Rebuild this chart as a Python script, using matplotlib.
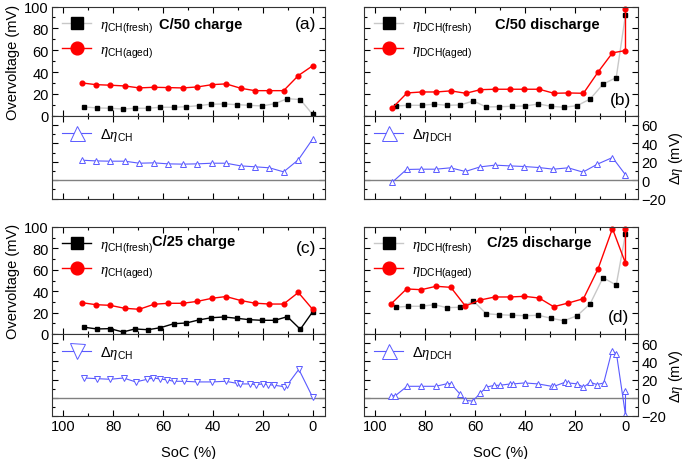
import matplotlib
matplotlib.use('Agg')
import matplotlib.pyplot as plt
from matplotlib.ticker import MultipleLocator

plt.rcParams['font.family'] = ['Liberation Sans', 'DejaVu Sans']
plt.rcParams['mathtext.fontset'] = 'custom'
plt.rcParams['mathtext.rm'] = 'Liberation Sans'
plt.rcParams['mathtext.it'] = 'Liberation Serif:italic'
plt.rcParams['mathtext.bf'] = 'Liberation Sans:bold'

# (a) C/50 charge
soc_ch50_fresh = [91.5, 86.5, 81.2, 76.1, 71.2, 66.0, 61.0, 55.7, 50.6, 45.7, 40.6, 35.5, 30.4, 25.4, 20.3, 15.1, 10.1, 4.9, 0.0]
eta_ch50_fresh = [8.1, 7.2, 6.9, 6.2, 6.9, 6.9, 7.8, 7.8, 8.3, 9.3, 10.6, 10.8, 10.2, 9.6, 9.0, 11.1, 15.7, 14.8, 1.4]
soc_ch50_aged = [92.6, 86.9, 81.2, 75.3, 69.5, 63.6, 57.9, 52.1, 46.2, 40.3, 34.7, 28.8, 23.1, 17.3, 11.6, 5.7, 0.0]
eta_ch50_aged = [30.1, 28.5, 28.0, 27.3, 25.5, 26.1, 25.8, 25.5, 26.4, 28.5, 29.2, 25.2, 23.0, 23.0, 23.0, 36.8, 45.7]
d_ch50 = [21.7, 20.9, 20.6, 20.6, 18.4, 18.8, 17.7, 17.4, 17.7, 18.4, 18.4, 15.5, 14.5, 13.4, 9.0, 22.1, 44.5]

# (b) C/50 discharge
soc_dch50_fresh = [91.9, 86.9, 81.5, 76.4, 71.3, 66.0, 60.8, 55.7, 50.5, 45.2, 40.0, 34.8, 29.7, 24.6, 19.3, 14.1, 9.0, 3.7, 0.0]
eta_dch50_fresh = [9.0, 9.6, 9.6, 10.6, 9.6, 9.9, 13.6, 8.1, 8.3, 8.7, 9.0, 10.8, 8.7, 7.8, 9.3, 15.4, 28.9, 35.0, 92.5]
soc_dch50_aged = [93.3, 87.3, 81.5, 75.6, 69.8, 63.8, 58.0, 52.1, 46.3, 40.4, 34.5, 28.6, 22.8, 16.8, 11.0, 5.2, 0.0, 0.0]
eta_dch50_aged = [6.9, 20.9, 21.8, 21.8, 22.8, 20.6, 23.9, 24.3, 24.3, 24.3, 24.3, 20.6, 20.9, 20.6, 39.9, 57.6, 59.7, 98.0]
soc_d_dch50 = [93.3, 87.5, 81.8, 75.8, 69.9, 64.0, 58.1, 52.2, 46.3, 40.4, 34.6, 28.8, 22.9, 17.0, 11.2, 5.2, 0.0]
d_dch50 = [-2.5, 11.6, 11.9, 11.9, 13.4, 9.4, 14.4, 16.3, 15.5, 14.8, 13.7, 11.9, 13.4, 8.7, 17.4, 24.6, 5.8]

# (c) C/25 charge
soc_ch25_fresh = soc_ch50_fresh
eta_ch25_fresh = [6.3, 4.7, 5.0, 1.9, 4.7, 4.0, 5.9, 9.6, 10.3, 13.1, 15.2, 15.9, 14.7, 13.4, 12.8, 12.8, 16.2, 4.4, 20.6]
soc_ch25_aged = soc_ch50_aged
eta_ch25_aged = [29.3, 27.4, 26.8, 24.0, 23.1, 27.8, 28.7, 28.7, 30.5, 33.4, 35.0, 31.3, 28.8, 28.0, 28.0, 38.8, 23.2]
soc_d_ch25 = [91.5, 86.5, 81.2, 75.8, 70.9, 66.3, 63.9, 61.0, 58.3, 55.7, 51.4, 46.3, 40.4, 34.9, 30.4, 29.1, 25.1,
              22.7, 19.8, 17.8, 15.5, 11.6, 10.2, 5.5, 0.0]
d_ch25 = [21.7, 21.0, 20.3, 21.7, 17.4, 20.3, 21.7, 20.6, 19.6, 18.1, 18.1, 17.4, 17.4, 18.1, 15.9, 15.2, 15.2,
          14.5, 15.2, 14.5, 13.8, 12.3, 13.8, 31.2, 0.8]

# (d) C/25 discharge
soc_dch25_fresh = soc_dch50_fresh
eta_dch25_fresh = [25.0, 25.9, 25.9, 27.4, 24.6, 25.0, 30.8, 19.0, 18.0, 17.5, 17.1, 17.5, 14.7, 12.4, 17.1, 28.3, 52.6, 45.8, 93.5]
soc_dch25_aged = [93.6, 87.5, 81.6, 75.7, 69.8, 64.0, 58.0, 52.2, 46.3, 40.4, 34.5, 28.7, 22.8, 16.8, 11.0, 5.2, 0.0, 0.0]
eta_dch25_aged = [28.3, 42.1, 41.4, 44.6, 43.6, 26.2, 31.8, 34.6, 34.6, 35.2, 33.6, 25.5, 29.0, 33.0, 60.7, 98.5, 66.1, 98.0]
soc_d_dch25 = [93.7, 92.0, 87.3, 81.8, 75.8, 71.2, 69.8, 66.2, 64.0, 61.1, 58.1, 55.7, 52.4, 50.3, 46.0, 45.0, 40.3,
               34.9, 29.5, 28.5, 24.2, 22.8, 19.2, 16.8, 14.1, 11.4, 8.7, 5.4, 3.6, 0.0, 0.0]
d_dch25 = [2.2, 2.2, 12.6, 12.6, 12.6, 15.5, 15.5, 4.3, -2.9, -3.6, 4.7, 11.6, 13.7, 13.7, 15.2, 15.2, 16.3,
           15.2, 12.6, 12.6, 17.0, 16.3, 15.2, 11.6, 17.0, 14.5, 16.3, 51.7, 48.2, -18.9, 7.2]

ROJO = '#ff0000'
AZUL = '#5a5aff'
GRIS = '#c8c8c8'

W, H = 685, 460
FS = 10.5


def caja(x0, y0, x1, y1):
	# pixeles (desde arriba) -> coordenadas de figura
	return [x0 / W, 1 - y1 / H, (x1 - x0) / W, (y1 - y0) / H]


def estilo_ticks(ax):
	ax.xaxis.set_major_locator(MultipleLocator(20))
	ax.xaxis.set_minor_locator(MultipleLocator(10))
	ax.yaxis.set_major_locator(MultipleLocator(20))
	ax.yaxis.set_minor_locator(MultipleLocator(10))
	ax.tick_params(which='both', direction='in', top=True, right=True, labelsize=FS, width=0.8, pad=2.5)
	ax.tick_params(which='major', length=4)
	ax.tick_params(which='minor', length=2.5)
	for s in ax.spines.values():
		s.set_linewidth(0.8)
		s.set_color('#333333')


def panel(fig, rect_sup, rect_inf, datos, lado, titulo, letra, pos_titulo, pos_letra, triang, linea_fresh, abajo):
	soc_f, eta_f, soc_a, eta_a, soc_d, d, nombre = datos
	ax = fig.add_axes(rect_sup)
	ax.plot(soc_f, eta_f, color=linea_fresh, lw=1.0, marker='s', ms=3.0, mfc='black', mec='black',
			label=r'$\eta_{\mathrm{' + nombre + '(fresh)}}$')
	ax.plot(soc_a, eta_a, color=ROJO, lw=1.0, marker='o', ms=3.4, mfc=ROJO, mec=ROJO,
			label=r'$\eta_{\mathrm{' + nombre + '(aged)}}$', clip_on=False)
	ax.set_xlim(104.5, -5)
	ax.set_ylim(0, 100)
	estilo_ticks(ax)
	ax.tick_params(labelbottom=False)
	if lado == 'izq':
		ax.set_ylabel('Overvoltage (mV)', fontsize=FS, labelpad=3)
	else:
		ax.tick_params(labelleft=False)
	ax.legend(loc='upper left', frameon=False, markerscale=2.7, fontsize=FS, handlelength=2.0,
			  handletextpad=0.6, borderaxespad=0.3, borderpad=0.4, labelspacing=0.55)
	ax.text(pos_titulo[0], pos_titulo[1], titulo, transform=ax.transAxes, fontsize=FS, fontweight='bold',
			ha='center', va='center')
	ax.text(pos_letra[0], pos_letra[1], letra, transform=ax.transAxes, fontsize=12.5, ha='center', va='center')

	ax2 = fig.add_axes(rect_inf)
	ax2.axhline(0, color='#808080', lw=1.0)
	ax2.plot(soc_d, d, color=AZUL, lw=0.8, marker=triang, ms=4.0, mfc='white', mec=AZUL, mew=0.7,
			 label=r'$\Delta\eta_{\mathrm{' + nombre + '}}$')
	ax2.set_xlim(104.5, -5)
	ax2.set_ylim(-20, 70)
	estilo_ticks(ax2)
	ax2.tick_params(labelleft=False)
	if lado == 'der':
		ax2.tick_params(labelright=True)
		ax2.yaxis.set_label_position('right')
		ax2.set_ylabel(r'$\Delta\eta$ (mV)', fontsize=FS, labelpad=0.5)
	if abajo:
		ax2.set_xlabel('SoC (%)', fontsize=FS, labelpad=8)
	else:
		ax2.tick_params(labelbottom=False)
	ax2.legend(loc='upper left', frameon=False, markerscale=2.7, fontsize=FS, handlelength=2.0,
			   handletextpad=0.6, borderaxespad=0.3, borderpad=0.4)


def main():
	fig = plt.figure(figsize=(W / 100, H / 100), dpi=100)

	izq = (52, 325)
	der = (364, 638)

	panel(fig, caja(izq[0], 7.5, izq[1], 116.8), caja(izq[0], 116.8, izq[1], 199.5),
		  (soc_ch50_fresh, eta_ch50_fresh, soc_ch50_aged, eta_ch50_aged, soc_ch50_aged, d_ch50, 'CH'),
		  'izq', 'C/50 charge', '(a)', (0.545, 0.84), (0.93, 0.84), '^', GRIS, False)
	panel(fig, caja(der[0], 7.5, der[1], 116.8), caja(der[0], 116.8, der[1], 199.5),
		  (soc_dch50_fresh, eta_dch50_fresh, soc_dch50_aged, eta_dch50_aged, soc_d_dch50, d_dch50, 'DCH'),
		  'der', 'C/50 discharge', '(b)', (0.67, 0.84), (0.935, 0.15), '^', GRIS, False)
	panel(fig, caja(izq[0], 228, izq[1], 335), caja(izq[0], 335, izq[1], 417),
		  (soc_ch25_fresh, eta_ch25_fresh, soc_ch25_aged, eta_ch25_aged, soc_d_ch25, d_ch25, 'CH'),
		  'izq', 'C/25 charge', '(c)', (0.52, 0.87), (0.93, 0.81), 'v', 'black', True)
	panel(fig, caja(der[0], 228, der[1], 335), caja(der[0], 335, der[1], 417),
		  (soc_dch25_fresh, eta_dch25_fresh, soc_dch25_aged, eta_dch25_aged, soc_d_dch25, d_dch25, 'DCH'),
		  'der', 'C/25 discharge', '(d)', (0.64, 0.86), (0.93, 0.16), '^', GRIS, True)

	fig.savefig('out.png', dpi=100)


if __name__ == '__main__':
	main()
